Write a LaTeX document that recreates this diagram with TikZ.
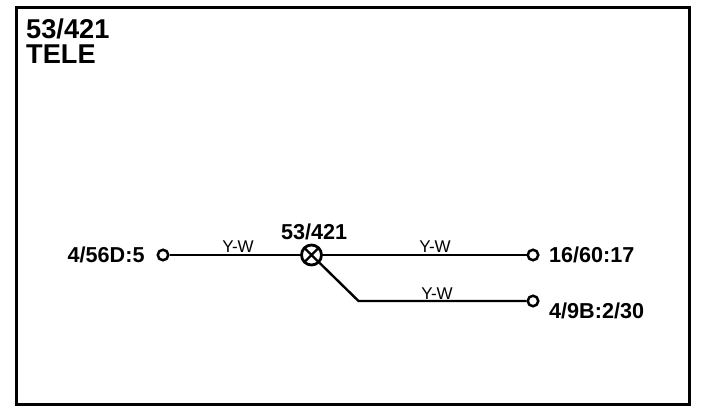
\documentclass[tikz,border=0pt]{standalone}
\usepackage{fontspec}
\setmainfont{Liberation Sans}
\tikzset{
  x=1pt,y=-1pt,
  frame/.style={draw=black,line width=3pt},
  wire/.style={draw=black,line width=2.4pt},
  term/.style={circle,draw=black,fill=white,line width=2.5pt,minimum size=10.5pt,inner sep=0pt},
  splice/.style={circle,draw=black,fill=white,line width=2.8pt,minimum size=20pt,inner sep=0pt,path picture={
    \draw[line width=2.2pt] (path picture bounding box.north west)--(path picture bounding box.south east)
      (path picture bounding box.north east)--(path picture bounding box.south west);}},
  titletxt/.style={inner sep=0pt,anchor=base west,font=\bfseries\fontsize{27.2}{27.2}\selectfont},
  big/.style={inner sep=0pt,anchor=base west,font=\bfseries\fontsize{21.6}{21.6}\selectfont},
  wirelbl/.style={inner sep=0pt,anchor=base,font=\fontsize{17}{17}\selectfont},
}
\begin{document}
\begin{tikzpicture}
\useasboundingbox (0,0) rectangle (704,414);
\draw[frame] (16.5,7.5) rectangle (689.5,404.5);
\node[titletxt] (t1) at (26,39) {53/421};
\node[titletxt] (t2) at (26,63.5) {TELE};
\coordinate (bend) at (358.5,301);
\node[term] (a) at (163,255) {};
\node[term] (b) at (533,255) {};
\node[term] (c) at (533,301) {};
\node[splice] (s) at (311.5,255) {};
\draw[wire] (a) -- (s);
\draw[wire] (s) -- (b);
\draw[wire] (s) -- (bend) -- (c);
\node[big] (la) at (67.5,262) {4/56D:5};
\node[big] (lb) at (549,262.5) {16/60:17};
\node[big] (lc) at (549,318.5) {4/9B:2/30};
\node[big] (ls) at (281,240) {53/421};
\node[wirelbl] (w1) at (238,252) {Y-W};
\node[wirelbl] (w2) at (435,252) {Y-W};
\node[wirelbl] (w3) at (437,299) {Y-W};
\end{tikzpicture}
\end{document}
